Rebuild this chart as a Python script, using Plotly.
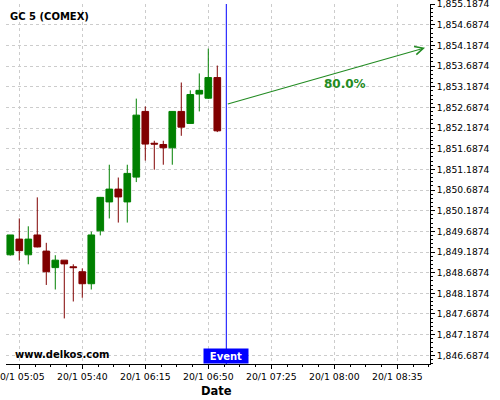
import plotly.graph_objects as go

times = ["2023-01-20 05:00", "2023-01-20 05:05", "2023-01-20 05:10", "2023-01-20 05:15",
         "2023-01-20 05:20", "2023-01-20 05:25", "2023-01-20 05:30", "2023-01-20 05:35",
         "2023-01-20 05:40", "2023-01-20 05:45", "2023-01-20 05:50", "2023-01-20 05:55",
         "2023-01-20 06:00", "2023-01-20 06:05", "2023-01-20 06:10", "2023-01-20 06:15",
         "2023-01-20 06:20", "2023-01-20 06:25", "2023-01-20 06:30", "2023-01-20 06:35",
         "2023-01-20 06:40", "2023-01-20 06:45", "2023-01-20 06:50", "2023-01-20 06:55"]
opens = [1849.12, 1849.50, 1849.12, 1849.60, 1849.21, 1848.81, 1848.99, 1848.83,
         1848.71, 1848.42, 1849.70, 1850.40, 1850.71, 1850.40, 1851.00, 1852.59,
         1851.82, 1851.79, 1851.71, 1852.59, 1852.30, 1853.01, 1852.91, 1853.41]
highs = [1849.60, 1850.00, 1849.81, 1850.51, 1849.41, 1849.11, 1848.99, 1848.89,
         1848.79, 1849.68, 1850.52, 1851.30, 1850.99, 1851.30, 1852.90, 1852.71,
         1851.88, 1851.88, 1852.60, 1853.29, 1853.10, 1853.51, 1854.11, 1853.70]
lows = [1849.10, 1848.98, 1848.89, 1849.30, 1848.39, 1848.28, 1847.58, 1847.99,
        1848.08, 1848.28, 1849.59, 1850.00, 1849.90, 1849.90, 1850.88, 1851.40,
        1851.18, 1851.30, 1851.30, 1852.00, 1852.29, 1852.59, 1852.89, 1852.09]
closes = [1849.60, 1849.22, 1849.50, 1849.31, 1848.71, 1848.99, 1848.90, 1848.81,
          1848.42, 1849.60, 1850.51, 1850.71, 1850.52, 1851.09, 1852.50, 1851.80,
          1851.80, 1851.71, 1852.59, 1852.21, 1853.00, 1853.10, 1853.41, 1852.12]

title_text = "GC 5 (COMEX)"
site_text = "www.delkos.com"
event_time = "2023-01-20 07:00"
event_label = "Event"
arrow_start = ("2023-01-20 07:00", 1852.761)
arrow_end = ("2023-01-20 08:50:24", 1854.131)
prob_text = "80.0%"
x_title = "Date"

FONT = "DejaVu Sans"
GREEN = "#008000"
RED = "#800000"
ARROW = "#228B22"

fig = go.Figure(go.Candlestick(
    x=times, open=opens, high=highs, low=lows, close=closes,
    increasing=dict(line=dict(color=GREEN, width=1), fillcolor=GREEN),
    decreasing=dict(line=dict(color=RED, width=1), fillcolor=RED),
    whiskerwidth=0, hoverinfo="skip", showlegend=False,
))

fig.update_layout(
    width=500, height=400,
    margin=dict(l=6, r=70, t=4, b=36),
    paper_bgcolor="white", plot_bgcolor="white",
    font=dict(family=FONT, color="black"),
    boxgap=0.26, boxgroupgap=0,
    showlegend=False,
    xaxis=dict(
        type="date",
        range=["2023-01-20 04:57:37", "2023-01-20 08:53:10"],
        tick0="2023-01-20 05:05", dtick=35 * 60000,
        tickformat="%-d/%-m %H:%M",
        tickfont=dict(size=9.3, family=FONT, color="black"),
        ticklabeloverflow="allow",
        showline=True, linecolor="black", linewidth=1,
        ticks="outside", ticklen=4, tickcolor="black",
        minor=dict(dtick=525000, tick0="2023-01-20 05:05", ticks="outside",
                   ticklen=2, tickcolor="black", showgrid=False),
        showgrid=True, gridcolor="#cccccc", griddash="3px,3px", gridwidth=1,
        rangeslider=dict(visible=False),
        automargin=False, fixedrange=True,
    ),
    yaxis=dict(
        side="right",
        range=[1846.477, 1855.19],
        tick0=1846.6874, dtick=0.5,
        tickformat=",.4f",
        tickfont=dict(size=9.2, family=FONT, color="black"),
        ticklabeloverflow="allow",
        showline=True, linecolor="black", linewidth=1,
        ticks="outside", ticklen=4, tickcolor="black",
        minor=dict(dtick=0.1, tick0=1846.6874, ticks="outside",
                   ticklen=2, tickcolor="black", showgrid=False),
        showgrid=True, gridcolor="#cccccc", griddash="3px,3px", gridwidth=1,
        zeroline=False, automargin=False, fixedrange=True,
    ),
    shapes=[dict(type="line", xref="x", yref="paper", x0=event_time, x1=event_time,
                 y0=0, y1=1, line=dict(color="#0000ff", width=1))],
    annotations=[
        dict(xref="paper", yref="paper", x=0.0047, y=0.966, xanchor="left", yanchor="middle",
             text="<b>" + title_text + "</b>", showarrow=False,
             font=dict(family=FONT, size=10, color="black")),
        dict(xref="paper", yref="paper", x=0.0165, y=0.027, xanchor="left", yanchor="middle",
             text="<b>" + site_text + "</b>", showarrow=False,
             font=dict(family=FONT, size=10, color="black")),
        dict(xref="x", yref="paper", x=event_time, y=0, xanchor="center", yanchor="bottom",
             text="<b>" + event_label + "</b>", showarrow=False, bgcolor="#0000ff",
             width=42, height=12, borderpad=1,
             font=dict(family=FONT, size=10, color="white")),
        dict(xref="x", yref="y", axref="x", ayref="y",
             x=arrow_end[0], y=arrow_end[1], ax=arrow_start[0], ay=arrow_start[1],
             text="", showarrow=True, arrowhead=5, arrowsize=1.5, arrowwidth=1.1,
             arrowcolor=ARROW, standoff=0, startstandoff=0),
        dict(xref="paper", yref="paper", x=0.8007, y=0.779, xanchor="center", yanchor="middle",
             text="<b>" + prob_text + "</b>", showarrow=False,
             font=dict(family=FONT, size=12, color=ARROW)),
        dict(xref="paper", yref="paper", x=0.4976, y=-0.075, xanchor="center", yanchor="middle",
             text="<b>" + x_title + "</b>", showarrow=False,
             font=dict(family=FONT, size=11.5, color="black")),
    ],
)

fig.write_html("out.html", config={"displayModeBar": False},
               post_script="document.body.style.margin='0';document.body.style.padding='0';")
